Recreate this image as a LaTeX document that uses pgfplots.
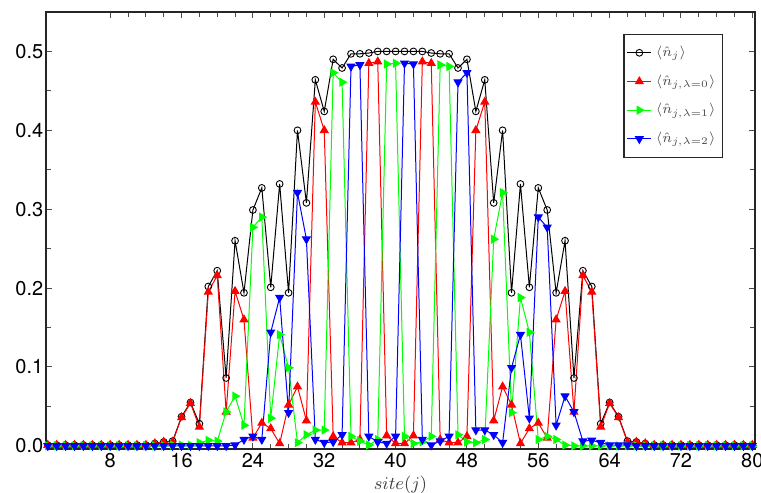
\documentclass[border=0pt]{standalone}
\usepackage{fontspec}
\setmainfont{TeX Gyre Heros}
\usepackage{pgfplots}
\usepackage{pgfplotstable}
\pgfplotsset{compat=1.18}
\pgfplotstableread{
j n r g b
1 0.001 0.001 0.000 0.000
2 0.001 0.001 0.000 0.000
3 0.001 0.001 0.000 0.000
4 0.001 0.001 0.000 0.000
5 0.001 0.001 0.000 0.000
6 0.001 0.001 0.000 0.000
7 0.001 0.001 0.000 0.000
8 0.001 0.001 0.000 0.000
9 0.001 0.001 0.000 0.000
10 0.001 0.001 0.000 0.000
11 0.001 0.001 0.000 0.000
12 0.001 0.001 0.000 0.000
13 0.003 0.003 0.000 0.000
14 0.005 0.005 0.000 0.000
15 0.006 0.005 0.001 0.000
16 0.037 0.036 0.001 0.000
17 0.055 0.054 0.001 0.000
18 0.028 0.024 0.004 0.000
19 0.202 0.195 0.007 0.000
20 0.222 0.216 0.006 0.000
21 0.086 0.043 0.043 0.000
22 0.260 0.196 0.063 0.001
23 0.194 0.160 0.026 0.008
24 0.299 0.010 0.277 0.012
25 0.327 0.029 0.290 0.008
26 0.201 0.022 0.035 0.144
27 0.332 0.003 0.141 0.188
28 0.194 0.052 0.099 0.042
29 0.400 0.075 0.004 0.321
30 0.308 0.032 0.014 0.262
31 0.464 0.436 0.020 0.008
32 0.424 0.400 0.020 0.004
33 0.490 0.012 0.473 0.005
34 0.479 0.004 0.461 0.014
35 0.497 0.004 0.012 0.481
36 0.497 0.008 0.006 0.483
37 0.498 0.485 0.001 0.012
38 0.500 0.487 0.008 0.005
39 0.500 0.013 0.484 0.003
40 0.500 0.003 0.485 0.012
41 0.500 0.003 0.012 0.485
42 0.500 0.013 0.003 0.484
43 0.500 0.487 0.005 0.008
44 0.498 0.485 0.012 0.001
45 0.497 0.008 0.483 0.006
46 0.497 0.004 0.481 0.012
47 0.479 0.004 0.014 0.461
48 0.490 0.012 0.005 0.473
49 0.424 0.400 0.004 0.020
50 0.464 0.436 0.008 0.020
51 0.308 0.032 0.262 0.014
52 0.400 0.075 0.321 0.004
53 0.194 0.052 0.042 0.099
54 0.332 0.003 0.188 0.141
55 0.201 0.022 0.144 0.035
56 0.327 0.029 0.008 0.290
57 0.299 0.010 0.012 0.277
58 0.194 0.160 0.008 0.026
59 0.260 0.196 0.001 0.063
60 0.086 0.043 0.000 0.043
61 0.222 0.216 0.000 0.006
62 0.202 0.195 0.000 0.007
63 0.028 0.024 0.000 0.004
64 0.055 0.054 0.000 0.001
65 0.037 0.036 0.000 0.001
66 0.006 0.005 0.000 0.001
67 0.005 0.005 0.000 0.000
68 0.003 0.003 0.000 0.000
69 0.001 0.001 0.000 0.000
70 0.001 0.001 0.000 0.000
71 0.001 0.001 0.000 0.000
72 0.001 0.001 0.000 0.000
73 0.001 0.001 0.000 0.000
74 0.001 0.001 0.000 0.000
75 0.001 0.001 0.000 0.000
76 0.001 0.001 0.000 0.000
77 0.001 0.001 0.000 0.000
78 0.001 0.001 0.000 0.000
79 0.001 0.001 0.000 0.000
80 0.001 0.001 0.000 0.000
}\datatable
\definecolor{pgreen}{rgb}{0,1,0}
\begin{document}
\begin{tikzpicture}
\useasboundingbox (-23pt,-22pt) rectangle (357.5pt,224.5pt);
\begin{axis}[
  at={(0pt,0pt)}, anchor=south west,
  scale only axis,
  width=354.5pt, height=218.5pt,
  xmin=0.8, xmax=80.3,
  ymin=-0.004, ymax=0.55,
  xtick={8,16,...,80},
  ytick={0,0.1,...,0.5},
  minor x tick num=3,
  minor y tick num=1,
  tick align=inside,
  major tick length=3pt,
  minor tick length=2.5pt,
  tick style={black!70, line width=0.5pt},
  axis line style={black!85, line width=0.9pt},
  yticklabel style={/pgf/number format/fixed, /pgf/number format/fixed zerofill, /pgf/number format/precision=1, inner xsep=1.2pt},
  xticklabel style={inner ysep=2pt},
  /pgf/number format/assume math mode=true,
  ticklabel style={font=\fontsize{10}{11}\selectfont},
  xlabel={$site(j)$},
  xlabel style={font=\fontsize{9.5}{10}\selectfont, text=black!75, yshift=1.5pt},
  legend style={at={(0.955,0.95)}, anchor=north east, draw=black!85, line width=0.6pt,
    font=\fontsize{6.6}{7.5}\selectfont, text=black!70, row sep=3.6pt, inner xsep=1.5pt, inner ysep=3.8pt},
  legend cell align=left,
  legend image code/.code={\draw[mark repeat=2,mark phase=2] plot coordinates {(0cm,0cm) (0.21cm,0cm) (0.42cm,0cm)};},
  every axis plot/.append style={line width=0.5pt},
]
\addplot[black, mark=o, mark size=1.7pt, mark options={solid, line width=0.45pt}] table[x=j, y=n] {\datatable};
\addlegendentry{$\langle\hat{n}_j\rangle$}
\addplot[red, mark=triangle*, mark size=2.2pt, mark options={solid}] table[x=j, y=r] {\datatable};
\addlegendentry{$\langle\hat{n}_{j,\lambda=0}\rangle$}
\addplot[pgreen, mark=triangle*, mark size=2.2pt, mark options={solid, rotate=-90}] table[x=j, y=g] {\datatable};
\addlegendentry{$\langle\hat{n}_{j,\lambda=1}\rangle$}
\addplot[blue, mark=triangle*, mark size=2.2pt, mark options={solid, rotate=180}] table[x=j, y=b] {\datatable};
\addlegendentry{$\langle\hat{n}_{j,\lambda=2}\rangle$}
\end{axis}
\end{tikzpicture}
\end{document}
